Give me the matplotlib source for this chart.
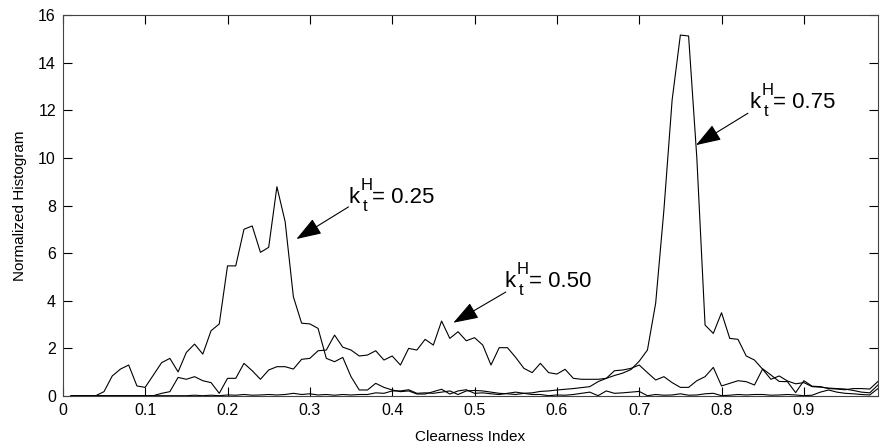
import numpy as np
import matplotlib
matplotlib.use("Agg")
import matplotlib.pyplot as plt

plt.rcParams['font.family'] = ['Liberation Sans', 'DejaVu Sans']

# clearness index bins (0.01 .. 0.99)
clearness = np.round(np.arange(1, 100) / 100, 2)

# normalized histogram for hourly kt = 0.25
hist_025 = [0, 0, 0, 0, 0.17, 0.83, 1.12, 1.29, 0.41, 0.35,
            0.87, 1.39, 1.57, 1.0, 1.82, 2.17, 1.75, 2.73, 3.02, 5.46,
            5.46, 7.0, 7.14, 6.03, 6.24, 8.79, 7.32, 4.16, 3.05, 3.02,
            2.83, 1.57, 1.43, 1.61, 0.8, 0.24, 0.24, 0.52, 0.35, 0.24,
            0.17, 0.2, 0.07, 0.07, 0.17, 0.27, 0.07, 0.2, 0.25, 0.1,
            0.12, 0.08, 0.05, 0.1, 0.15, 0.1, 0.05, 0.05, 0.0, 0.03,
            0.02, 0.05, 0.1, 0.15, 0.0, 0.2, 0.1, 0.12, 0.15, 0.18,
            0.0, 0.05, 0.02, 0.03, 0.08, 0.02, 0.03, 0.08, 0.1, 0.0,
            0.02, 0.05, 0.03, 0.05, 0.05, 0.02, 0.03, 0.05, 0.03, 0.0,
            0.02, 0.15, 0.24, 0.15, 0.1, 0.08, 0.05, 0.03, 0.3]

# normalized histogram for hourly kt = 0.50
hist_050 = [0, 0, 0, 0, 0, 0, 0, 0, 0, 0,
            0, 0.1, 0.17, 0.77, 0.69, 0.8, 0.63, 0.55, 0.1, 0.73,
            0.73, 1.36, 1.05, 0.69, 1.08, 1.22, 1.22, 1.12, 1.53, 1.57,
            1.89, 1.92, 2.55, 2.04, 1.92, 1.67, 1.71, 1.89, 1.5, 1.67,
            1.29, 1.99, 1.92, 2.37, 2.13, 3.14, 2.41, 2.69, 2.31, 2.44,
            2.13, 1.29, 2.02, 2.02, 1.61, 1.15, 0.97, 1.36, 0.97, 0.91,
            1.11, 0.73, 0.69, 0.69, 0.69, 0.73, 1.05, 1.08, 1.15, 1.29,
            0.97, 0.66, 0.8, 0.55, 0.35, 0.35, 0.63, 0.8, 1.19, 0.41,
            0.52, 0.63, 0.59, 0.45, 1.13, 0.87, 0.6, 0.59, 0.13, 0.63,
            0.4, 0.38, 0.3, 0.28, 0.25, 0.3, 0.3, 0.28, 0.6]

# normalized histogram for hourly kt = 0.75
hist_075 = [0, 0, 0, 0, 0, 0, 0, 0, 0, 0,
            0, 0, 0, 0, 0, 0.02, 0, 0.02, 0, 0.03,
            0.02, 0.05, 0.02, 0.03, 0.05, 0.03, 0.05, 0.1, 0.05, 0.08,
            0.03, 0.05, 0.02, 0.05, 0.03, 0.05, 0.05, 0.12, 0.1, 0.2,
            0.2, 0.25, 0.1, 0.12, 0.1, 0.15, 0.2, 0.05, 0.2, 0.22,
            0.2, 0.15, 0.1, 0.08, 0.05, 0.1, 0.12, 0.18, 0.2, 0.24,
            0.27, 0.3, 0.34, 0.38, 0.59, 0.73, 0.85, 0.95, 1.1, 1.45,
            1.92, 3.89, 7.81, 12.44, 15.17, 15.13, 10.0, 2.97, 2.62, 3.49,
            2.41, 2.37, 1.67, 1.5, 1.11, 0.69, 0.83, 0.62, 0.5, 0.55,
            0.38, 0.36, 0.32, 0.3, 0.28, 0.22, 0.15, 0.12, 0.45]

xtick_vals = [0, 0.1, 0.2, 0.3, 0.4, 0.5, 0.6, 0.7, 0.8, 0.9]
xtick_labels = ['0', '0.1', '0.2', '0.3', '0.4', '0.5', '0.6', '0.7', '0.8', '0.9']
ytick_vals = [0, 2, 4, 6, 8, 10, 12, 14, 16]

fig = plt.figure(figsize=(8.8, 4.44), dpi=100)
ax = fig.add_axes([0.0714, 0.1088, 0.9263, 0.8567])

for hist in (hist_025, hist_050, hist_075):
    ax.plot(clearness, hist, color='black', lw=0.8)

ax.set_xlim(0, 0.99)
ax.set_ylim(0, 16)
ax.set_xticks(xtick_vals)
ax.set_xticklabels(xtick_labels)
ax.set_yticks(ytick_vals)
ax.tick_params(direction='in', length=6.5, width=0.8, labelsize=11.5,
               top=True, right=True, pad=5)
for sp in ax.spines.values():
    sp.set_color('#444444')
    sp.set_linewidth(0.8)

ax.set_xlabel('Clearness Index', fontsize=11, labelpad=9)
ax.set_ylabel('Normalized Histogram', fontsize=11, labelpad=8)

# labels "k_t^H = value" with arrows pointing at each curve
notes = [
    ('0.25', (0.347, 8.1), (0.3469, 7.94), (0.2837, 6.59)),
    ('0.50', (0.537, 4.57), (0.538, 4.36), (0.4743, 3.07)),
    ('0.75', (0.8336, 12.1), (0.832, 11.88), (0.769, 10.54)),
]
for val, pos, tail, tip in notes:
    ax.text(pos[0], pos[1], 'k', fontsize=16, ha='left', va='baseline')
    ax.annotate('H', xy=pos, xytext=(8.6, 9.2), textcoords='offset points',
                fontsize=12, ha='left', va='baseline')
    ax.annotate('t', xy=pos, xytext=(10.2, -6.0), textcoords='offset points',
                fontsize=12, ha='left', va='baseline')
    ax.annotate('= ' + val, xy=pos, xytext=(17.0, 0), textcoords='offset points',
                fontsize=16, ha='left', va='baseline')
    ax.annotate('', xy=tip, xytext=tail,
                arrowprops=dict(arrowstyle='-|>,head_length=1.3,head_width=0.45',
                                mutation_scale=12, color='black', lw=0.8,
                                shrinkA=0, shrinkB=0))

fig.savefig('out.png', dpi=100)
